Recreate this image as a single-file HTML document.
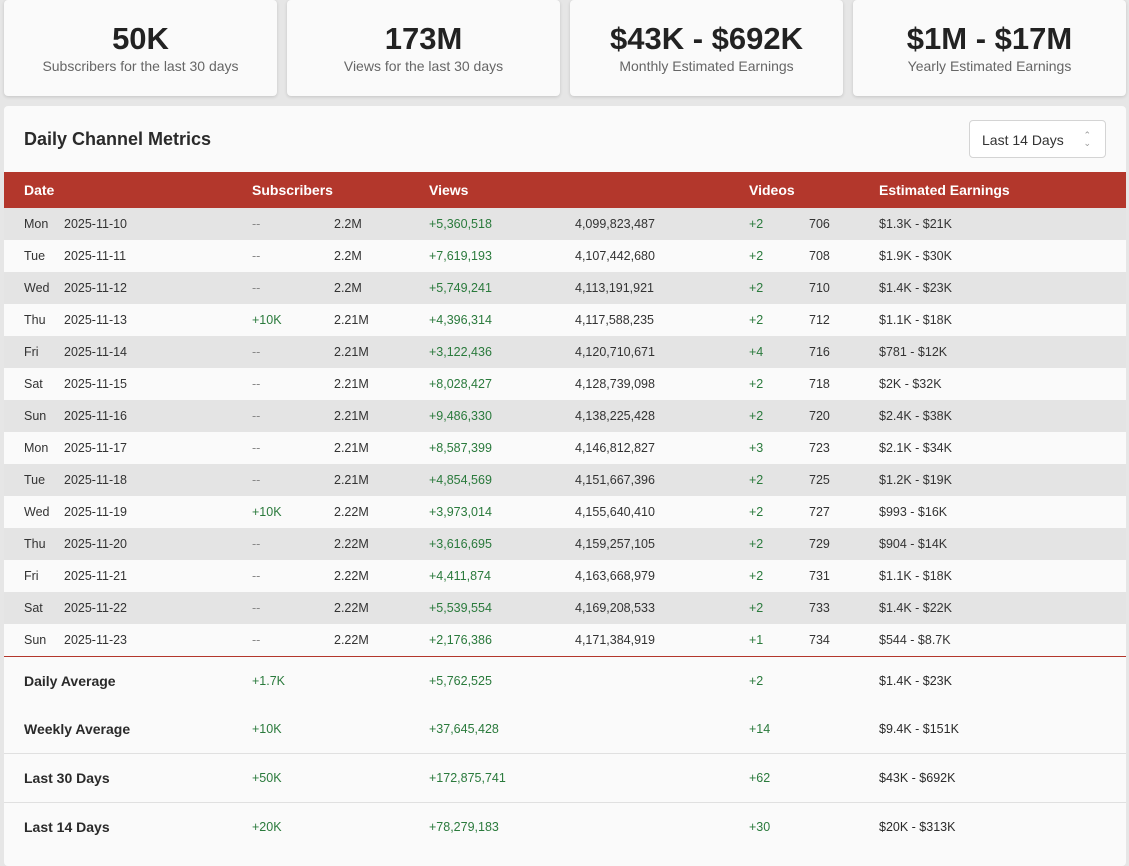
<!DOCTYPE html>
<html><head><meta charset="utf-8"><style>
*{margin:0;padding:0;box-sizing:border-box}
body{width:1129px;height:848px;overflow:hidden;background:#e6e6e6;font-family:"Liberation Sans",sans-serif;color:#2a2a2a;position:relative}
.card{position:absolute;top:0;height:96px;width:273px;background:#fafafa;border-radius:4px;box-shadow:0 1px 3px rgba(0,0,0,.15);text-align:center}
.card b{display:block;font-size:31px;margin-top:22px;line-height:34px;color:#222}
.card span{display:block;font-size:14px;color:#666;margin-top:2px}
.panel{position:absolute;left:4px;top:106px;width:1122px;height:760px;background:#fafafa;border-radius:4px}
.title{position:absolute;left:24px;top:129px;font-size:18px;font-weight:bold;color:#2a2a2a}
.sel{position:absolute;left:969px;top:120px;width:137px;height:38px;border:1px solid #d4d4d4;border-radius:4px;background:#fff;font-size:14px;padding:11px 0 0 12px;color:#333}
.sel i{position:absolute;right:14px;top:10px;font-style:normal;font-size:9px;color:#999;line-height:8px}
.hdr{position:absolute;left:4px;top:172px;width:1122px;height:36px;background:#b3372c;color:#fff;font-weight:bold;font-size:14px}
.hdr span,.r span{position:absolute}
.hdr span{top:10px}
.r{position:absolute;left:4px;width:1122px;height:32px;font-size:12.5px;color:#333}
.r span{top:9px}
.g{color:#2a7a3c}
.s{position:absolute;left:4px;width:1122px;font-size:12.5px}
.s span{position:absolute}
.s .l{font-weight:bold;font-size:14px;color:#2a2a2a}
</style></head><body>
<div class="card" style="left:4px"><b>50K</b><span>Subscribers for the last 30 days</span></div>
<div class="card" style="left:287px"><b>173M</b><span>Views for the last 30 days</span></div>
<div class="card" style="left:570px"><b>$43K - $692K</b><span>Monthly Estimated Earnings</span></div>
<div class="card" style="left:853px"><b>$1M - $17M</b><span>Yearly Estimated Earnings</span></div>
<div class="panel"></div>
<div class="title">Daily Channel Metrics</div>
<div class="sel">Last 14 Days<i>⌃<br>⌄</i></div>
<div class="hdr"><span style="left:20px">Date</span><span style="left:248px">Subscribers</span><span style="left:425px">Views</span><span style="left:745px">Videos</span><span style="left:875px">Estimated Earnings</span></div>
<div id="rows"></div>
<div style="position:absolute;left:4px;top:656px;width:1122px;height:1px;background:#b3372c"></div>
<div class="s" style="top:673px"><span class="l" style="left:20px">Daily Average</span><span class="g" style="left:248px;top:1px">+1.7K</span><span class="g" style="left:425px;top:1px">+5,762,525</span><span class="g" style="left:745px;top:1px">+2</span><span style="left:875px;top:1px">$1.4K - $23K</span></div>
<div class="s" style="top:721px"><span class="l" style="left:20px">Weekly Average</span><span class="g" style="left:248px;top:1px">+10K</span><span class="g" style="left:425px;top:1px">+37,645,428</span><span class="g" style="left:745px;top:1px">+14</span><span style="left:875px;top:1px">$9.4K - $151K</span></div>
<div style="position:absolute;left:4px;top:753px;width:1122px;height:1px;background:#e0e0e0"></div>
<div class="s" style="top:770px"><span class="l" style="left:20px">Last 30 Days</span><span class="g" style="left:248px;top:1px">+50K</span><span class="g" style="left:425px;top:1px">+172,875,741</span><span class="g" style="left:745px;top:1px">+62</span><span style="left:875px;top:1px">$43K - $692K</span></div>
<div style="position:absolute;left:4px;top:802px;width:1122px;height:1px;background:#e0e0e0"></div>
<div class="s" style="top:819px"><span class="l" style="left:20px">Last 14 Days</span><span class="g" style="left:248px;top:1px">+20K</span><span class="g" style="left:425px;top:1px">+78,279,183</span><span class="g" style="left:745px;top:1px">+30</span><span style="left:875px;top:1px">$20K - $313K</span></div>
<script>
var d=[["Mon","2025-11-10","--","2.2M","+5,360,518","4,099,823,487","+2","706","$1.3K - $21K"],
["Tue","2025-11-11","--","2.2M","+7,619,193","4,107,442,680","+2","708","$1.9K - $30K"],
["Wed","2025-11-12","--","2.2M","+5,749,241","4,113,191,921","+2","710","$1.4K - $23K"],
["Thu","2025-11-13","+10K","2.21M","+4,396,314","4,117,588,235","+2","712","$1.1K - $18K"],
["Fri","2025-11-14","--","2.21M","+3,122,436","4,120,710,671","+4","716","$781 - $12K"],
["Sat","2025-11-15","--","2.21M","+8,028,427","4,128,739,098","+2","718","$2K - $32K"],
["Sun","2025-11-16","--","2.21M","+9,486,330","4,138,225,428","+2","720","$2.4K - $38K"],
["Mon","2025-11-17","--","2.21M","+8,587,399","4,146,812,827","+3","723","$2.1K - $34K"],
["Tue","2025-11-18","--","2.21M","+4,854,569","4,151,667,396","+2","725","$1.2K - $19K"],
["Wed","2025-11-19","+10K","2.22M","+3,973,014","4,155,640,410","+2","727","$993 - $16K"],
["Thu","2025-11-20","--","2.22M","+3,616,695","4,159,257,105","+2","729","$904 - $14K"],
["Fri","2025-11-21","--","2.22M","+4,411,874","4,163,668,979","+2","731","$1.1K - $18K"],
["Sat","2025-11-22","--","2.22M","+5,539,554","4,169,208,533","+2","733","$1.4K - $22K"],
["Sun","2025-11-23","--","2.22M","+2,176,386","4,171,384,919","+1","734","$544 - $8.7K"]];
var x=[20,60,248,330,425,571,745,805,875],h="";
d.forEach(function(r,i){h+='<div class="r" style="top:'+(208+i*32)+'px;background:'+(i%2?'#fafafa':'#e4e4e4')+'">';
r.forEach(function(c,j){var cl=(j==4||j==6||(j==2&&c!="--"))?' class="g"':(j==2?' style="color:#888;left:'+x[j]+'px"':'');
if(j==2&&c=="--")h+='<span style="color:#888;left:'+x[j]+'px">'+c+'</span>';else h+='<span'+cl+' style="left:'+x[j]+'px">'+c+'</span>';});
h+='</div>';});
document.getElementById('rows').innerHTML=h;
</script>
</body></html>
